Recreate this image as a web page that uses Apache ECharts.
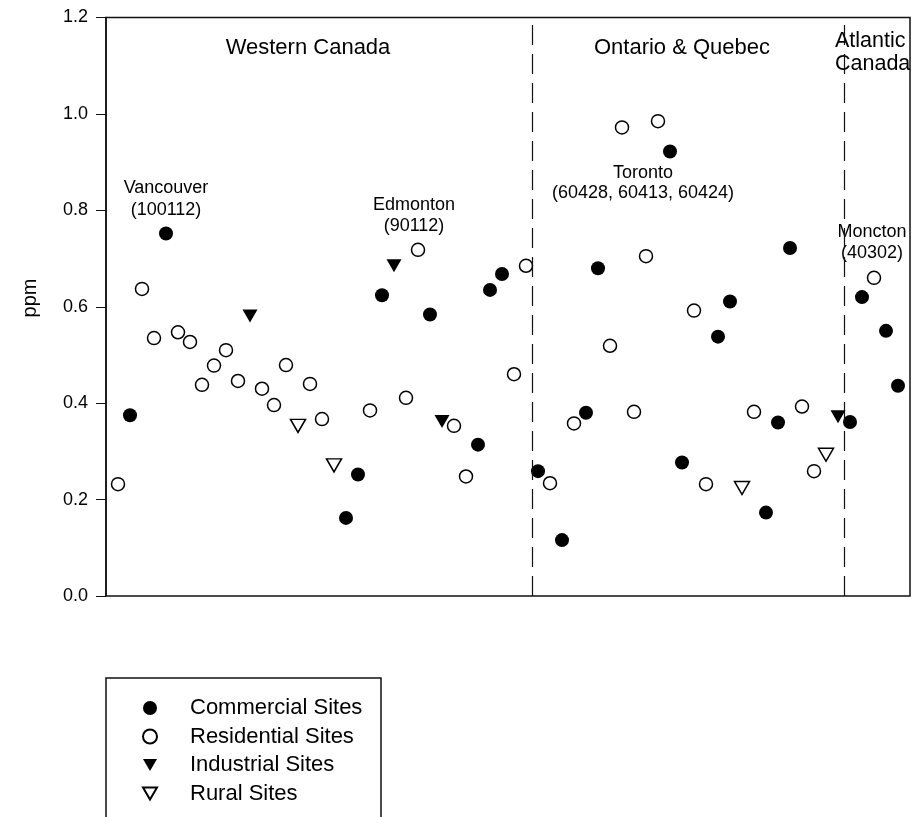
<!DOCTYPE html>
<html>
<head>
<meta charset="utf-8">
<script src="https://cdn.jsdelivr.net/npm/echarts@6/dist/echarts.min.js"></script>
<style>
  html, body { margin: 0; padding: 0; background: #fff; }
  #chart { width: 913px; height: 817px; }
</style>
</head>
<body>
<div id="chart"></div>
<script>
// Sampling sites in site order, west to east (site number = position + 1)
// C = commercial, R = residential, I = industrial, U = rural
const siteTypes = [
  'R','C','R','R','C','R','R','R','R','R',
  'R','I','R','R','R','U','R','R','U','C',
  'C','R','C','I','R','R','C','I','R','R',
  'C','C','C','R','R','C','R','C','R','C',
  'C','R','R','R','R','R','C','C','R','R',
  'C','C','U','R','C','C','C','R','R','U',
  'I','C','C','R','C','C'
];
// Concentration at each site, ppm
const ppmValues = [
  0.232, 0.375, 0.637, 0.535, 0.752, 0.547, 0.527, 0.438, 0.478, 0.510,
  0.446, 0.581, 0.430, 0.396, 0.479, 0.353, 0.440, 0.367, 0.271, 0.162,
  0.252, 0.385, 0.624, 0.685, 0.411, 0.718, 0.584, 0.362, 0.353, 0.248,
  0.314, 0.635, 0.668, 0.460, 0.685, 0.259, 0.234, 0.116, 0.358, 0.380,
  0.680, 0.519, 0.972, 0.382, 0.705, 0.985, 0.922, 0.277, 0.592, 0.232,
  0.538, 0.611, 0.224, 0.382, 0.173, 0.360, 0.722, 0.393, 0.259, 0.293,
  0.372, 0.361, 0.620, 0.660, 0.550, 0.436
];
// Boundaries between regions (in site-number units)
const regionBreaks = [35.5, 61.5];
const yTicks = [0, 0.2, 0.4, 0.6, 0.8, 1.0, 1.2];

const FONT = '"Liberation Sans", Arial, Helvetica, sans-serif';
const downTriangle = 'path://M0,0 L10,0 L5,8.66 Z';

function pointsOf(code) {
  const out = [];
  siteTypes.forEach((t, i) => { if (t === code) out.push([i + 1, ppmValues[i]]); });
  return out;
}

const chart = echarts.init(document.getElementById('chart'), null, { renderer: 'canvas' });

const breakLines = regionBreaks.map(x => [
  { coord: [x, 0] },
  { coord: [x, 1.191] }
]);

chart.setOption({
  animation: false,
  backgroundColor: '#ffffff',
  grid: {
    left: 106, right: 3, top: 17.5, bottom: 221,
    show: true, borderColor: '#111', borderWidth: 1.5, backgroundColor: 'transparent'
  },
  xAxis: {
    type: 'value', min: 0, max: 67,
    axisLine: { show: false }, axisTick: { show: false },
    axisLabel: { show: false }, splitLine: { show: false }
  },
  yAxis: {
    type: 'value', min: yTicks[0], max: yTicks[yTicks.length - 1], interval: 0.2,
    axisLine: { show: true, lineStyle: { color: '#111', width: 1.5 } },
    axisTick: { show: true, inside: false, length: 10, lineStyle: { color: '#111', width: 1 } },
    axisLabel: {
      margin: 18, color: '#000', fontFamily: FONT, fontSize: 18,
      formatter: v => v.toFixed(1)
    },
    splitLine: { show: false }
  },
  legend: {
    orient: 'vertical', left: 106, top: 678,
    padding: [19, 0, 0, 36],
    itemWidth: 14, itemHeight: 14, itemGap: 6.5,
    textStyle: { fontFamily: FONT, fontSize: 22, color: '#000', lineHeight: 22, padding: [0, 0, 0, 28] },
    data: ['Commercial Sites', 'Residential Sites', 'Industrial Sites', 'Rural Sites']
  },
  series: [
    {
      name: 'Commercial Sites', type: 'scatter', symbol: 'circle', symbolSize: 14,
      itemStyle: { color: '#000', borderColor: '#000', borderWidth: 0, opacity: 1 },
      data: pointsOf('C'), z: 3,
      markLine: {
        silent: true, symbol: ['none', 'none'], label: { show: false },
        lineStyle: { color: '#111', width: 1.2, type: [20, 9] },
        data: breakLines
      }
    },
    {
      name: 'Residential Sites', type: 'scatter', symbol: 'circle', symbolSize: 13,
      itemStyle: { color: '#fff', borderColor: '#000', borderWidth: 1.5, opacity: 1 },
      data: pointsOf('R'), z: 3
    },
    {
      name: 'Industrial Sites', type: 'scatter', symbol: downTriangle, symbolSize: [15, 13],
      itemStyle: { color: '#000', borderColor: '#000', borderWidth: 0, opacity: 1 },
      data: pointsOf('I'), z: 3
    },
    {
      name: 'Rural Sites', type: 'scatter', symbol: downTriangle, symbolSize: [15, 13],
      itemStyle: { color: '#fff', borderColor: '#000', borderWidth: 1.5, opacity: 1 },
      data: pointsOf('U'), z: 3
    }
  ],
  graphic: [
    // axis title
    { type: 'text', x: 30, y: 298, rotation: Math.PI / 2,
      style: { text: 'ppm', font: '20px ' + FONT, fill: '#000', textAlign: 'center', textVerticalAlign: 'middle' } },
    // region headings
    { type: 'text', x: 308, y: 48,
      style: { text: 'Western Canada', font: '22px ' + FONT, fill: '#000', textAlign: 'center', textVerticalAlign: 'middle' } },
    { type: 'text', x: 682, y: 48,
      style: { text: 'Ontario & Quebec', font: '22px ' + FONT, fill: '#000', textAlign: 'center', textVerticalAlign: 'middle' } },
    { type: 'text', x: 835, y: 53,
      style: { text: 'Atlantic\nCanada', font: '21.5px ' + FONT, lineHeight: 23, fill: '#000', textAlign: 'left', textVerticalAlign: 'middle' } },
    // station call-outs
    { type: 'text', x: 166, y: 199,
      style: { text: 'Vancouver\n(100112)', font: '18px ' + FONT, lineHeight: 22, fill: '#000', textAlign: 'center', textVerticalAlign: 'middle' } },
    { type: 'text', x: 414, y: 216,
      style: { text: 'Edmonton\n(90112)', font: '18px ' + FONT, lineHeight: 21, fill: '#000', textAlign: 'center', textVerticalAlign: 'middle' } },
    { type: 'text', x: 643, y: 183,
      style: { text: 'Toronto\n(60428, 60413, 60424)', font: '18px ' + FONT, lineHeight: 20, fill: '#000', textAlign: 'center', textVerticalAlign: 'middle' } },
    { type: 'text', x: 872, y: 243,
      style: { text: 'Moncton\n(40302)', font: '18px ' + FONT, lineHeight: 21, fill: '#000', textAlign: 'center', textVerticalAlign: 'middle' } },
    // legend frame
    { type: 'rect', shape: { x: 106, y: 678, width: 275, height: 160 },
      style: { fill: 'none', stroke: '#111', lineWidth: 1.5 }, z: -1 }
  ]
});
</script>
</body>
</html>
